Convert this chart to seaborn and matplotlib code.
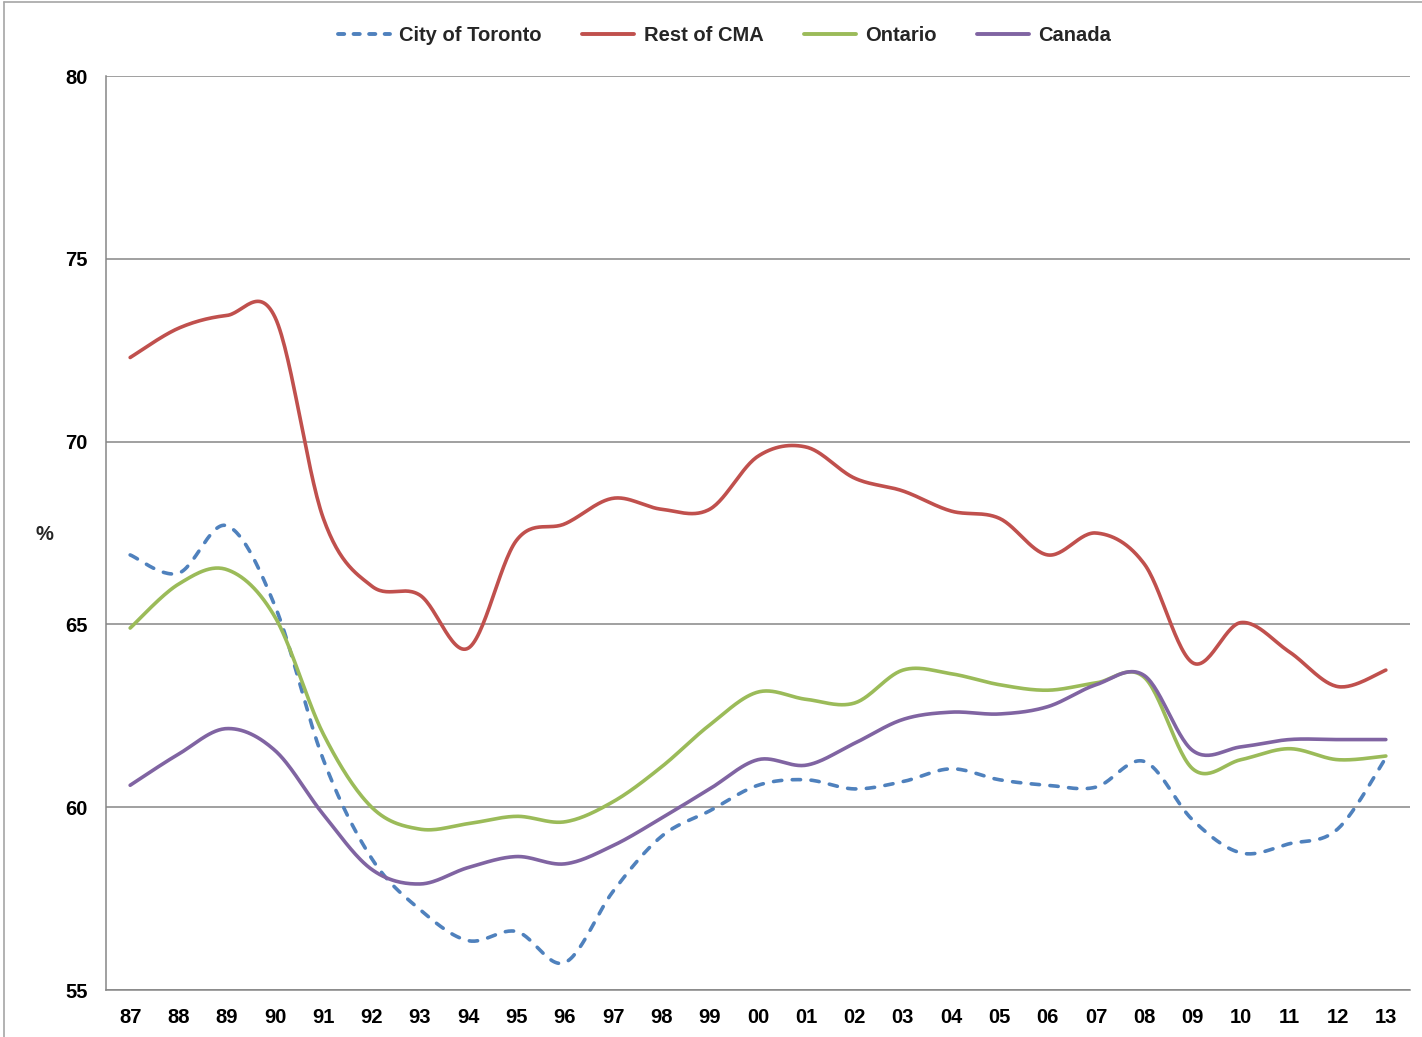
import numpy as np
import pandas as pd
import matplotlib
matplotlib.use("Agg")
import matplotlib.pyplot as plt
from matplotlib.lines import Line2D
import seaborn as sns

# --- data ---
years = ["87", "88", "89", "90", "91", "92", "93", "94", "95", "96", "97", "98", "99",
         "00", "01", "02", "03", "04", "05", "06", "07", "08", "09", "10", "11", "12", "13"]

toronto = [66.9, 66.4, 67.7, 65.5, 61.3, 58.6, 57.2, 56.35, 56.6, 55.75, 57.7, 59.2, 59.9,
           60.6, 60.75, 60.5, 60.7, 61.05, 60.75, 60.6, 60.55, 61.25, 59.65, 58.75, 59.0, 59.4, 61.35]
rest_cma = [72.3, 73.1, 73.45, 73.4, 67.9, 66.05, 65.8, 64.35, 67.3, 67.75, 68.45, 68.15, 68.15,
            69.6, 69.85, 69.0, 68.65, 68.1, 67.9, 66.9, 67.5, 66.65, 63.95, 65.05, 64.25, 63.3, 63.75]
ontario = [64.9, 66.1, 66.5, 65.2, 62.0, 60.0, 59.4, 59.55, 59.75, 59.6, 60.15, 61.1, 62.25,
           63.15, 62.95, 62.85, 63.75, 63.65, 63.35, 63.2, 63.4, 63.55, 61.05, 61.3, 61.6, 61.3, 61.4]
canada = [60.6, 61.45, 62.15, 61.55, 59.8, 58.3, 57.9, 58.35, 58.65, 58.45, 58.95, 59.7, 60.5,
          61.3, 61.15, 61.75, 62.4, 62.6, 62.55, 62.75, 63.35, 63.6, 61.55, 61.65, 61.85, 61.85, 61.85]

series_names = ["City of Toronto", "Rest of CMA", "Ontario", "Canada"]
series_values = [toronto, rest_cma, ontario, canada]
colors = ["#4F81BD", "#C0504D", "#9BBB59", "#8064A2"]

GRAY = "#868686"
FS = 14.5
DASH = (2.3, 2.9)


def smooth(xs, ys, n=30):
    # Excel-style smoothed line: cubic Bezier through each pair of points
    p = np.column_stack([xs, ys]).astype(float)
    p = np.vstack([p[0], p, p[-1]])
    out = []
    t = np.linspace(0, 1, n, endpoint=False)[:, None]
    for i in range(1, len(p) - 2):
        p0, p1, p2, p3 = p[i - 1], p[i], p[i + 1], p[i + 2]
        c1 = p1 + (p2 - p0) / 6
        c2 = p2 - (p3 - p1) / 6
        seg = ((1 - t) ** 3) * p1 + 3 * ((1 - t) ** 2) * t * c1 + 3 * (1 - t) * t ** 2 * c2 + t ** 3 * p2
        out.append(seg)
    out.append(p[-2][None, :])
    out = np.vstack(out)
    return out[:, 0], out[:, 1]


sns.set_style("white")
plt.rcParams["font.family"] = ["Liberation Sans", "DejaVu Sans"]
plt.rcParams["font.weight"] = "bold"

fig = plt.figure(figsize=(14.22, 10.37), dpi=100)
ax = fig.add_axes([106 / 1422, 1 - 990 / 1037, 1304 / 1422, 914 / 1037])

x_idx = np.arange(len(years))
handles = []
for name, vals, col in zip(series_names, series_values, colors):
    sx, sy = smooth(x_idx, vals)
    df = pd.DataFrame({"x": sx, "y": sy})
    sns.lineplot(data=df, x="x", y="y", ax=ax, color=col, linewidth=2.6,
                 sort=False, estimator=None, legend=False)
    line = ax.lines[-1]
    line.set_solid_capstyle("round")
    if name == "City of Toronto":
        line.set_dashes(DASH)
        line.set_dash_capstyle("round")
        h = Line2D([], [], color=col, lw=2.8, dashes=(1.6, 2.4), dash_capstyle="round")
    else:
        h = Line2D([], [], color=col, lw=2.8)
    handles.append(h)

# axes
ax.set_xlim(-0.5, len(years) - 0.5)
ax.set_ylim(55, 80)
ax.set_yticks([55, 60, 65, 70, 75, 80])
ax.set_xticks(x_idx)
ax.set_xticklabels(years)
ax.set_xticks(np.arange(-0.5, len(years), 1), minor=True)
ax.tick_params(axis="x", which="major", length=0, pad=13, labelsize=FS, labelcolor="black")
ax.tick_params(axis="x", which="minor", length=5, width=1, color=GRAY, direction="out")
ax.tick_params(axis="y", which="major", length=5, width=1, color=GRAY, direction="out",
               pad=8, labelsize=FS, labelcolor="black")
ax.grid(axis="y", color=GRAY, linewidth=1.1)
ax.set_axisbelow(True)
for s in ["top", "right"]:
    ax.spines[s].set_visible(False)
for s in ["left", "bottom"]:
    ax.spines[s].set_color(GRAY)
    ax.spines[s].set_linewidth(1.1)

ax.set_xlabel("")
ax.set_ylabel("%", rotation=0, fontsize=FS, fontweight="bold", va="center", ha="center")
ax.yaxis.set_label_coords(-0.0475, 0.498)

fig.legend(handles, series_names, loc="center", bbox_to_anchor=(0.5095, 0.966), ncol=4,
           frameon=False, fontsize=FS, handlelength=2.6, handletextpad=0.45,
           columnspacing=2.0)

# outer chart border (left and top edges visible)
fig.add_artist(Line2D([0.0025, 0.0025], [0, 0.9985], color="#A6A6A6", lw=1.2, transform=fig.transFigure))
fig.add_artist(Line2D([0.0025, 1], [0.9985, 0.9985], color="#A6A6A6", lw=1.2, transform=fig.transFigure))

fig.savefig("out.png", dpi=100)
